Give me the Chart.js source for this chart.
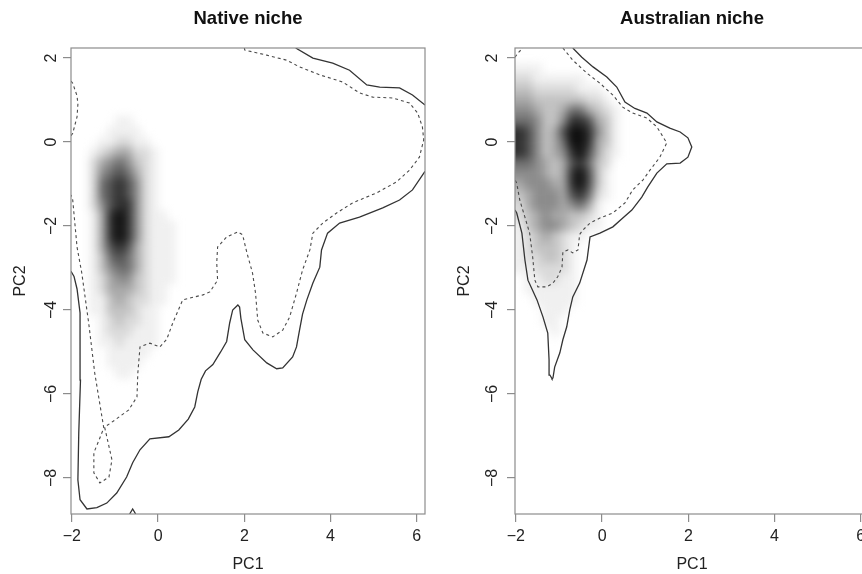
<!DOCTYPE html>
<html>
<head>
<meta charset="utf-8">
<script src="https://cdn.jsdelivr.net/npm/chart.js@4.4.1/dist/chart.umd.min.js"></script>
<style>
  html, body { margin: 0; padding: 0; background: #fff; overflow: hidden; }
  #wrap { position: relative; width: 862px; height: 574px; overflow: hidden; background: #fff; }
  canvas { position: absolute; top: 0; }
  #nativeChart { left: 0; }
  #ausChart { left: 431px; }
</style>
</head>
<body>
<div id="wrap">
  <canvas id="nativeChart" width="431" height="574"></canvas>
  <canvas id="ausChart" width="450" height="574"></canvas>
</div>
<script>
const pc1Range = [-2.02, 6.19];
const pc2Range = [-8.86, 2.24];
const pc1Ticks = [-2, 0, 2, 4, 6];
const pc2Ticks = [-8, -6, -4, -2, 0, 2];

// density grids: one string per row, one digit per cell (0 = empty, 9 = darkest)
const nativeCols = [-1.9, -1.7, -1.5, -1.3, -1.1, -0.9, -0.7, -0.5, -0.3, -0.1, 0.1, 0.3, 0.5];
const nativeRows = [0.75, 0.5, 0.25, 0, -0.25, -0.5, -0.75, -1, -1.25, -1.5, -1.75, -2, -2.25,
  -2.5, -2.75, -3, -3.25, -3.5, -3.75, -4, -4.25, -4.5, -4.75, -5, -5.25, -5.5];
const nativeDensity = [
  "0000000000000",
  "0000011000000",
  "0000111100000",
  "0001122110000",
  "0012344221000",
  "0024565321000",
  "0025676421000",
  "0026787521000",
  "0026787521000",
  "0025788521000",
  "0014898521100",
  "0014898521110",
  "0014898521110",
  "0014787421110",
  "0013676421110",
  "0013566421110",
  "0012455321110",
  "0012444321100",
  "0011343221100",
  "0011333211000",
  "0001232211000",
  "0001222111000",
  "0001121111000",
  "0000111110000",
  "0000111100000",
  "0000011000000"
];

const ausCols = [-1.9, -1.7, -1.5, -1.3, -1.1, -0.9, -0.7, -0.5, -0.3, -0.1, 0.1, 0.3, 0.5, 0.7, 0.9, 1.1];
const ausRows = [2, 1.75, 1.5, 1.25, 1, 0.75, 0.5, 0.25, 0, -0.25, -0.5, -0.75, -1, -1.25, -1.5,
  -1.75, -2, -2.25, -2.5, -2.75, -3, -3.25, -3.5, -3.75, -4, -4.25, -4.5];
const ausDensity = [
  "0000000000000000",
  "1110000000000000",
  "2211111100000000",
  "3322222111000000",
  "4433333322100000",
  "5543346643210000",
  "6653358874310000",
  "8753479985310000",
  "8753469984310000",
  "8753458974210000",
  "6654347863200000",
  "5554348973100000",
  "4555448973100000",
  "3455547862100000",
  "2455545641000000",
  "2345443321000000",
  "1345543211000000",
  "1234321100000000",
  "1233321000000000",
  "1223321000000000",
  "1122221000000000",
  "0112211000000000",
  "0111111000000000",
  "0011111000000000",
  "0001110000000000",
  "0001100000000000",
  "0000100000000000"
];

// envelope lines as [PC1, PC2]; solid = outer, dashed = inner
const nativeOuterTop = [[3.19, 2.24], [3.59, 2.0], [4.05, 1.88], [4.44, 1.71], [4.84, 1.36], [5.14, 1.31],
  [5.6, 1.29], [5.9, 1.12], [6.19, 0.88]];
const nativeOuterMain = [[6.19, -0.7], [5.9, -1.14], [5.6, -1.38], [5.21, -1.57], [4.67, -1.79], [4.21, -1.93],
  [3.93, -2.17], [3.79, -2.57], [3.75, -2.98], [3.59, -3.36], [3.45, -3.76], [3.35, -4.1], [3.28, -4.48],
  [3.21, -4.88], [3.12, -5.12], [2.89, -5.38], [2.75, -5.4], [2.52, -5.26], [2.2, -4.95], [2.01, -4.71],
  [1.92, -4.2], [1.89, -3.93], [1.85, -3.88], [1.73, -4.0], [1.66, -4.31], [1.59, -4.75], [1.45, -5.0],
  [1.27, -5.3], [1.1, -5.45], [1.0, -5.65], [0.92, -5.95], [0.85, -6.31], [0.7, -6.6], [0.48, -6.86],
  [0.25, -7.02], [-0.19, -7.07], [-0.42, -7.33], [-0.59, -7.64], [-0.73, -7.98], [-0.96, -8.36],
  [-1.19, -8.6], [-1.42, -8.71], [-1.65, -8.74], [-1.81, -8.52], [-1.86, -8.05], [-1.84, -6.93],
  [-1.8, -5.67], [-1.81, -4.07], [-1.88, -3.5], [-1.95, -3.2], [-2.02, -3.08]];
const nativeOuterSpeck = [[-0.66, -8.86], [-0.59, -8.74], [-0.52, -8.86]];
const nativeInnerLeft = [[-2.02, 1.45], [-1.98, 1.4], [-1.88, 1.1], [-1.86, 0.9], [-1.88, 0.6],
  [-1.98, 0.21], [-2.02, 0.15]];
const nativeInnerMain = [[2.0, 2.24], [2.01, 2.19], [2.52, 2.07], [2.98, 1.95], [3.28, 1.79], [3.75, 1.6],
  [4.28, 1.43], [4.67, 1.17], [4.98, 1.07], [5.44, 1.05], [5.83, 0.93], [6.02, 0.69], [6.13, 0.36],
  [6.16, 0.05], [6.06, -0.36], [5.83, -0.67], [5.53, -0.95], [5.07, -1.21], [4.51, -1.45], [4.14, -1.69],
  [3.82, -1.93], [3.59, -2.17], [3.52, -2.57], [3.35, -3.05], [3.21, -3.6], [3.05, -4.17], [2.89, -4.48],
  [2.66, -4.64], [2.43, -4.55], [2.31, -4.24], [2.26, -3.6], [2.19, -3.12], [2.06, -2.64], [1.96, -2.21],
  [1.85, -2.14], [1.59, -2.26], [1.38, -2.5], [1.36, -2.88], [1.38, -3.29], [1.2, -3.57], [1.04, -3.64],
  [0.57, -3.76], [0.34, -4.31], [0.2, -4.7], [0.04, -4.88], [-0.19, -4.79], [-0.42, -4.88], [-0.47, -5.5],
  [-0.49, -6.07], [-0.68, -6.38], [-1.0, -6.62], [-1.24, -6.79], [-1.07, -7.57], [-1.14, -7.98],
  [-1.35, -8.12], [-1.49, -7.88], [-1.49, -7.4], [-1.37, -7.1], [-1.26, -6.81], [-1.47, -5.5],
  [-1.61, -4.31], [-1.77, -3.12], [-1.88, -2.5], [-1.98, -1.38], [-2.02, -1.26]];

const ausOuter = [[-0.68, 2.24], [-0.47, 2.02], [-0.21, 1.79], [0.11, 1.55], [0.34, 1.31], [0.53, 0.95],
  [0.76, 0.8], [1.04, 0.69], [1.27, 0.48], [1.57, 0.33], [1.81, 0.24], [1.99, 0.1], [2.08, -0.12],
  [1.99, -0.36], [1.81, -0.5], [1.5, -0.52], [1.27, -0.74], [1.06, -1.07], [0.92, -1.31], [0.69, -1.62],
  [0.48, -1.81], [0.25, -2.02], [-0.05, -2.17], [-0.28, -2.26], [-0.35, -2.81], [-0.52, -3.36],
  [-0.68, -3.69], [-0.75, -4.0], [-0.82, -4.4], [-0.91, -4.71], [-0.98, -5.02], [-1.1, -5.36],
  [-1.14, -5.62], [-1.16, -5.64], [-1.21, -5.55], [-1.23, -5.19], [-1.26, -4.55], [-1.37, -4.17],
  [-1.51, -3.76], [-1.72, -3.29], [-1.79, -2.81], [-1.86, -2.17], [-1.98, -1.69], [-2.02, -1.62]];
const ausInner = [[-0.91, 2.24], [-0.68, 1.95], [-0.35, 1.64], [-0.05, 1.4], [0.25, 1.12], [0.48, 0.83],
  [0.71, 0.69], [1.04, 0.57], [1.27, 0.36], [1.5, -0.02], [1.34, -0.36], [1.11, -0.67], [0.95, -0.9],
  [0.71, -1.14], [0.53, -1.45], [0.25, -1.69], [-0.05, -1.81], [-0.28, -1.93], [-0.45, -2.1], [-0.52, -2.2],
  [-0.56, -2.57], [-0.68, -2.64], [-0.79, -2.57], [-0.91, -2.62], [-0.93, -2.98], [-1.03, -3.21],
  [-1.14, -3.36], [-1.28, -3.45], [-1.49, -3.45], [-1.56, -3.29], [-1.61, -2.74], [-1.68, -2.17],
  [-1.79, -1.79], [-1.91, -1.38], [-1.98, -0.98], [-2.02, -0.9]];
const ausInnerCorner = [[-2.02, 2.02], [-1.95, 2.12], [-1.84, 2.24]];

Chart.defaults.font.family = "'Liberation Sans', Arial, Helvetica, sans-serif";
Chart.defaults.color = "#222";

function gridPoints(cols, rows, grid) {
  const pts = [];
  rows.forEach((y, r) => {
    cols.forEach((x, c) => {
      pts.push({ x: x, y: y, v: Number(grid[r][c]) });
    });
  });
  return pts;
}

function toXY(pairs) {
  return pairs.map(p => ({ x: p[0], y: p[1] }));
}

function envelope(pairs, dashed) {
  return {
    data: toXY(pairs),
    showLine: true,
    pointRadius: 0,
    borderColor: dashed ? "#4a4a4a" : "#333",
    borderWidth: dashed ? 1.1 : 1.3,
    borderDash: dashed ? [3, 3] : [],
    tension: 0,
    fill: false
  };
}

const densityPlugin = {
  id: "densityCells",
  beforeDatasetsDraw(chart) {
    const ds = chart.data.datasets[0];
    const xs = chart.scales.x, ys = chart.scales.y;
    const area = chart.chartArea;
    const off = document.createElement("canvas");
    off.width = chart.width;
    off.height = chart.height;
    const oc = off.getContext("2d");
    ds.data.forEach(p => {
      if (!p.v) return;
      let x0 = xs.getPixelForValue(p.x - ds.cellW / 2);
      const x1 = xs.getPixelForValue(p.x + ds.cellW / 2);
      const y0 = ys.getPixelForValue(p.y + ds.cellH / 2);
      const y1 = ys.getPixelForValue(p.y - ds.cellH / 2);
      if (x0 - area.left < 4) x0 = area.left - 8;
      const g = Math.round(255 - 240 * Math.pow(p.v / 9, 1.25));
      oc.fillStyle = `rgb(${g},${g},${g})`;
      oc.fillRect(x0, y0, x1 - x0 + 0.5, y1 - y0 + 0.5);
    });
    const ctx = chart.ctx;
    ctx.save();
    ctx.beginPath();
    ctx.rect(area.left, area.top, area.right - area.left, area.bottom - area.top);
    ctx.clip();
    ctx.filter = "blur(4px)";
    ctx.drawImage(off, 0, 0);
    ctx.restore();
  }
};

const framePlugin = {
  id: "frame",
  afterDatasetsDraw(chart) {
    const { ctx, chartArea: a } = chart;
    ctx.save();
    ctx.strokeStyle = "#8c8c8c";
    ctx.lineWidth = 1.2;
    ctx.strokeRect(a.left, a.top, a.right - a.left, a.bottom - a.top);
    ctx.restore();
  }
};

const minus = v => String(v).replace("-", "\u2212");

function makeChart(id, title, cols, rows, grid, solids, dashes, opts) {
  const heat = {
    data: gridPoints(cols, rows, grid),
    pointRadius: 0,
    showLine: false,
    cellW: cols[1] - cols[0],
    cellH: rows[0] - rows[1]
  };
  const datasets = [heat]
    .concat(dashes.map(d => envelope(d, true)))
    .concat(solids.map(s => envelope(s, false)));

  return new Chart(document.getElementById(id), {
    type: "scatter",
    data: { datasets: datasets },
    plugins: [densityPlugin, framePlugin],
    options: {
      responsive: false,
      animation: false,
      events: [],
      layout: { padding: { left: 0, right: opts.rightPad, top: 0, bottom: 0 } },
      plugins: {
        legend: { display: false },
        tooltip: { enabled: false },
        title: {
          display: true,
          text: title,
          fullSize: false,
          color: "#111",
          font: { size: 18.5, weight: "bold" },
          padding: { top: 8, bottom: 17.8 }
        }
      },
      scales: {
        x: {
          type: "linear",
          min: pc1Range[0],
          max: pc1Range[1],
          afterBuildTicks: s => { s.ticks = pc1Ticks.map(v => ({ value: v })); },
          afterFit: s => { s.height = 60; },
          border: { display: false },
          grid: { drawOnChartArea: false, drawTicks: true, tickLength: 8, color: "#8c8c8c", lineWidth: 1.2 },
          ticks: { autoSkip: false, maxRotation: 0, minRotation: 0, padding: 5, font: { size: 16 }, callback: minus },
          title: { display: true, text: "PC1", font: { size: 16 }, padding: { top: 0, bottom: 0 } }
        },
        y: {
          type: "linear",
          min: pc2Range[0],
          max: pc2Range[1],
          afterBuildTicks: s => { s.ticks = pc2Ticks.map(v => ({ value: v })); },
          afterFit: s => { s.width = opts.yWidth; },
          border: { display: false },
          grid: { drawOnChartArea: false, drawTicks: true, tickLength: 8, color: "#8c8c8c", lineWidth: 1.2 },
          ticks: {
            autoSkip: false, minRotation: 90, maxRotation: 90, crossAlign: "center",
            padding: opts.yTickPad, font: { size: 16 }, callback: minus
          },
          title: { display: true, text: "PC2", font: { size: 16 }, padding: { top: opts.yTitlePad, bottom: 0 } }
        }
      }
    }
  });
}

makeChart("nativeChart", "Native niche", nativeCols, nativeRows, nativeDensity,
  [nativeOuterTop, nativeOuterMain, nativeOuterSpeck], [nativeInnerLeft, nativeInnerMain],
  { yWidth: 71, rightPad: 6, yTickPad: 2, yTitlePad: 11 });

makeChart("ausChart", "Australian niche", ausCols, ausRows, ausDensity,
  [ausOuter], [ausInner, ausInnerCorner],
  { yWidth: 84, rightPad: 12, yTickPad: 5.5, yTitlePad: 24 });
</script>
</body>
</html>
